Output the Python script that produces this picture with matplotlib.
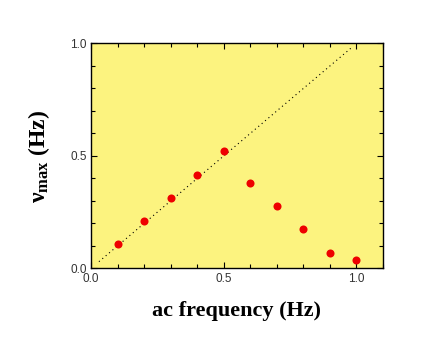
import matplotlib
matplotlib.use('Agg')
import matplotlib.pyplot as plt
from matplotlib.ticker import MultipleLocator

# measured points
freq = [0.1, 0.2, 0.3, 0.4, 0.5, 0.6, 0.7, 0.8, 0.9, 1.0]
nu_max = [0.107, 0.21, 0.311, 0.415, 0.521, 0.378, 0.277, 0.175, 0.068, 0.037]

# guide line nu_max = f
guide_x = [0.03, 0.98]
guide_y = [0.03, 0.98]

plt.rcParams['mathtext.fontset'] = 'custom'
plt.rcParams['mathtext.rm'] = 'Liberation Serif:bold'
plt.rcParams['mathtext.bf'] = 'Liberation Serif:bold'

fig = plt.figure(figsize=(4.27, 3.45), dpi=100)
ax = fig.add_axes([0.213, 0.222, 0.684, 0.652])
ax.set_facecolor('#fcf37f')

ax.plot(guide_x, guide_y, color='black', linestyle=(0, (1, 3)), linewidth=0.8)
ax.plot(freq, nu_max, 'o', color='#ee0000', markersize=5.8, markeredgewidth=0)

ax.set_xlim(0, 1.1)
ax.set_ylim(0, 1.0)
ax.xaxis.set_major_locator(MultipleLocator(0.5))
ax.yaxis.set_major_locator(MultipleLocator(0.5))
ax.xaxis.set_minor_locator(MultipleLocator(0.1))
ax.yaxis.set_minor_locator(MultipleLocator(0.1))
ax.tick_params(which='both', direction='in', top=True, right=True,
               labelsize=8.5, labelcolor='#333333', width=0.8)
ax.tick_params(which='major', length=4.5, pad=3)
ax.tick_params(which='minor', length=3)
ax.xaxis.set_major_formatter(plt.FormatStrFormatter('%.1f'))
ax.yaxis.set_major_formatter(plt.FormatStrFormatter('%.1f'))
for lbl in ax.get_xticklabels() + ax.get_yticklabels():
    lbl.set_fontfamily('Liberation Sans')
for s in ax.spines.values():
    s.set_linewidth(1.0)

ax.set_xlabel('ac frequency (Hz)', fontfamily='Liberation Serif',
              fontweight='bold', fontsize=16, labelpad=12)
ax.set_ylabel(r'$\mathrm{\nu_{max}}$ (Hz)', fontfamily='Liberation Serif',
              fontweight='bold', fontsize=17, labelpad=13)

fig.savefig('out.png', dpi=100, facecolor='white')
